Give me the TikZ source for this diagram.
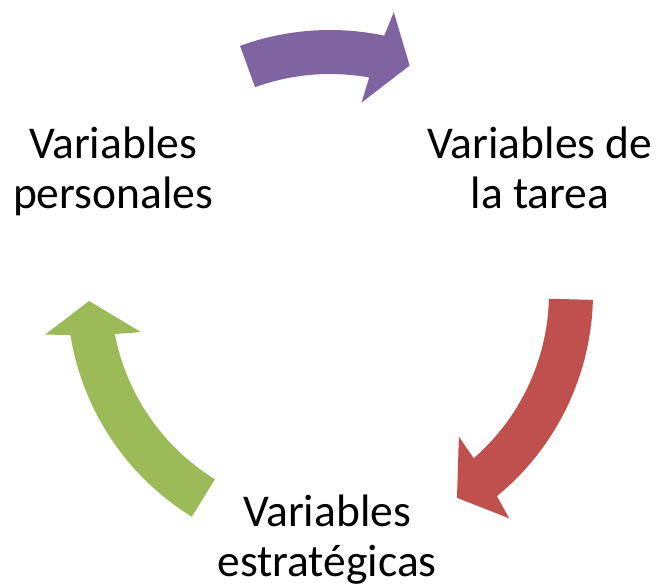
\documentclass[tikz,border=0pt]{standalone}
\usepackage{fontspec}
\setmainfont{Carlito}
\usetikzlibrary{positioning}
\definecolor{cyclepurple}{HTML}{8064A2}
\definecolor{cyclered}{HTML}{C0504D}
\definecolor{cyclegreen}{HTML}{9BBB59}
% curved block arrow: colour, tail angle, head base angle, tip angle
\newcommand{\cyclearrow}[4]{%
  \fill[#1] (#2:263pt) arc[start angle=#2,end angle=#3-0.8,radius=263pt]
    -- ({#3-1.7}:288pt) -- (#4:241pt) -- ({#3+1.7}:193pt)
    -- ({#3+0.8}:219pt) arc[start angle=#3+0.8,end angle=#2,radius=219pt]
    -- cycle;}

\begin{document}
\begin{tikzpicture}
  [
    x=1pt,y=1pt,
    label/.style={
      inner sep=0pt,
      align=center,
      font=\fontsize{45.5}{50}\selectfont
    },
  ]
  \useasboundingbox (0,0) rectangle (662,-585);
  \node[label,anchor=north] (pers)  at (113,-127) {Variables\\personales};
  \node[label,anchor=north] (tarea) at (540,-127) {Variables de\\la tarea};
  \node[label,anchor=north] (estr)  at (327,-495) {Variables\\estratégicas};

  \begin{scope}[shift={(330,-293)}]
    \cyclearrow{cyclepurple}{110}{78.9}{70.7}
    \cyclearrow{cyclered}{-1.5}{-49.8}{-58.2}
    \cyclearrow{cyclegreen}{238.3}{190}{181.9}
  \end{scope}
\end{tikzpicture}
\end{document}
